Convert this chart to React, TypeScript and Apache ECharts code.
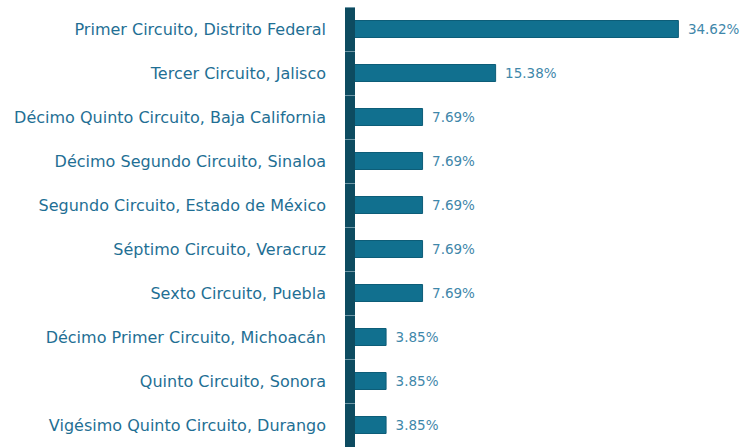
import React, { useEffect, useRef } from "react";
import * as echarts from "echarts";

const categories = [
  "Primer Circuito, Distrito Federal",
  "Tercer Circuito, Jalisco",
  "Décimo Quinto Circuito, Baja California",
  "Décimo Segundo Circuito, Sinaloa",
  "Segundo Circuito, Estado de México",
  "Séptimo Circuito, Veracruz",
  "Sexto Circuito, Puebla",
  "Décimo Primer Circuito, Michoacán",
  "Quinto Circuito, Sonora",
  "Vigésimo Quinto Circuito, Durango",
];
const values = [34.62, 15.38, 7.69, 7.69, 7.69, 7.69, 7.69, 3.85, 3.85, 3.85];

export default function App() {
  const ref = useRef<HTMLDivElement>(null);
  useEffect(() => {
    const chart = echarts.init(ref.current!, null, { renderer: "svg" });
    chart.setOption({
      animation: false,
      backgroundColor: "#ffffff",
      grid: { left: 350, top: 7, height: 443, width: 380 },
      xAxis: {
        type: "value",
        min: 0,
        max: 40,
        show: false,
      },
      yAxis: [
        {
          type: "category",
          data: categories,
          inverse: true,
          z: 5,
          axisLine: { show: true, lineStyle: { color: "#0d4b60", width: 10, cap: "butt" } },
          axisTick: { show: true, inside: false, length: 5, lineStyle: { color: "#6f97a6", width: 1 } },
          axisLabel: {
            margin: 24,
            color: "#1f6f94",
            fontFamily: "DejaVu Sans",
            fontSize: 16,
          },
        },
        {
          type: "category",
          data: categories,
          inverse: true,
          position: "left",
          z: 6,
          axisLine: { show: false },
          axisTick: { show: true, inside: true, length: 5, lineStyle: { color: "#6f97a6", width: 1 } },
          axisLabel: { show: false },
        },
      ],
      series: [
        {
          type: "bar",
          data: values,
          barWidth: 18,
          itemStyle: { color: "#11708f", borderColor: "#0d5d78", borderWidth: 1 },
          label: {
            show: true,
            position: "right",
            distance: 9,
            formatter: (p: any) => p.value.toFixed(2) + "%",
            color: "#3f87aa",
            fontFamily: "DejaVu Sans",
            fontSize: 13.5,
          },
        },
      ],
    });
    return () => chart.dispose();
  }, []);
  return (
    <div
      ref={ref}
      style={{ position: "fixed", left: 0, top: 0, width: 754, height: 447 }}
    />
  );
}
